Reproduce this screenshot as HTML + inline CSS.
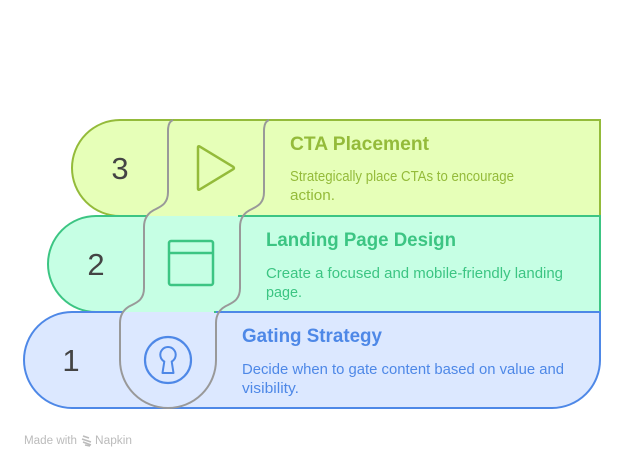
<!DOCTYPE html>
<html><head><meta charset="utf-8"><style>
html,body{margin:0;padding:0;background:#fff}
svg{display:block}
text{font-family:"Liberation Sans",sans-serif}
</style></head><body>
<svg width="624" height="468" viewBox="0 0 624 468" xmlns="http://www.w3.org/2000/svg">
<rect width="624" height="468" fill="#fff"/>
<!-- fills -->
<path d="M120 120H600V216H120A48 48 0 0 1 120 120Z" fill="#E6FFB8"/>
<path d="M96 216H600V312H96A48 48 0 0 1 96 216Z" fill="#C6FFE4"/>
<path d="M72 312H600V360A48 48 0 0 1 552 408H72A48 48 0 0 1 72 312Z" fill="#DCE8FF"/>
<!-- strokes -->
<g fill="none" stroke-width="2">
<path d="M120 216A48 48 0 0 1 120 120H600V216" stroke="#94BB3A"/>
<path d="M147 216H96A48 48 0 0 0 96 312H123M238 216H600V312H214" stroke="#3CC583"/>
<path d="M123 312H72A48 48 0 0 0 72 408H552A48 48 0 0 0 600 360V312H216" stroke="#4E88E7"/>
<!-- grey connector -->
<path d="M173 120C170 121 168 124 168 131V192C168 203 162 206 156 209C149 212 144 217 144 227V288C144 299 138 302 132 305C125 308 120 313 120 323V360A48 48 0 0 0 216 360V323C216 313 221 308 228 305C234 302 240 299 240 288V227C240 217 245 212 252 209C258 206 264 203 264 192V131C264 124 266 121 269 120" stroke="#999999"/>
<!-- icons -->
<path d="M198 147.500Q198 145.500 200 146.700L233 166.700Q235 168 233 169.300L200 189.300Q198 190.500 198 188.500Z" stroke="#94BB3A" stroke-width="2.500" stroke-linejoin="round"/>
<rect x="169" y="241" width="44" height="44" rx="2" stroke="#3CC583" stroke-width="2.500"/>
<path d="M169 253H213" stroke="#3CC583" stroke-width="2.500"/>
<circle cx="168" cy="360" r="23" stroke="#4E88E7" stroke-width="2.200"/>
<path d="M162.500 373L164.300 361.500A7.700 7.700 0 1 1 171.700 361.500L173.500 373Z" stroke="#4E88E7" stroke-width="2" stroke-linejoin="round"/>
</g>
<!-- numbers -->
<g font-size="31" fill="#444444" text-anchor="middle">
<text x="120" y="179">3</text>
<text x="96" y="275">2</text>
<text x="71" y="371">1</text>
</g>
<!-- row 3 text -->
<g fill="#94BB3A">
<text x="290" y="150" font-size="19" font-weight="700" textLength="139" lengthAdjust="spacingAndGlyphs">CTA Placement</text>
<text x="290" y="181" font-size="14.500" textLength="224" lengthAdjust="spacingAndGlyphs">Strategically place CTAs to encourage</text>
<text x="290" y="200" font-size="14.500" textLength="45" lengthAdjust="spacingAndGlyphs">action.</text>
</g>
<!-- row 2 text -->
<g fill="#3CC583">
<text x="266" y="246" font-size="19" font-weight="700" textLength="190" lengthAdjust="spacingAndGlyphs">Landing Page Design</text>
<text x="266" y="278" font-size="14.500" textLength="297" lengthAdjust="spacingAndGlyphs">Create a focused and mobile-friendly landing</text>
<text x="266" y="297" font-size="14.500" textLength="36" lengthAdjust="spacingAndGlyphs">page.</text>
</g>
<!-- row 1 text -->
<g fill="#4E88E7">
<text x="242" y="342" font-size="19" font-weight="700" textLength="140" lengthAdjust="spacingAndGlyphs">Gating Strategy</text>
<text x="242" y="374" font-size="14.500" textLength="322" lengthAdjust="spacingAndGlyphs">Decide when to gate content based on value and</text>
<text x="242" y="393" font-size="14.500" textLength="57" lengthAdjust="spacingAndGlyphs">visibility.</text>
</g>
<!-- footer -->
<g fill="#BBBBBB" font-size="11.500">
<text x="24" y="444" textLength="53" lengthAdjust="spacingAndGlyphs">Made with</text>
<text x="95" y="444" textLength="37" lengthAdjust="spacingAndGlyphs">Napkin</text>
</g>
<path d="M83 436L89 438M82 439L91 442M83 442L91 445M85 445L90 446" stroke="#BBBBBB" stroke-width="1.500" fill="none"/>
</svg>
</body></html>
